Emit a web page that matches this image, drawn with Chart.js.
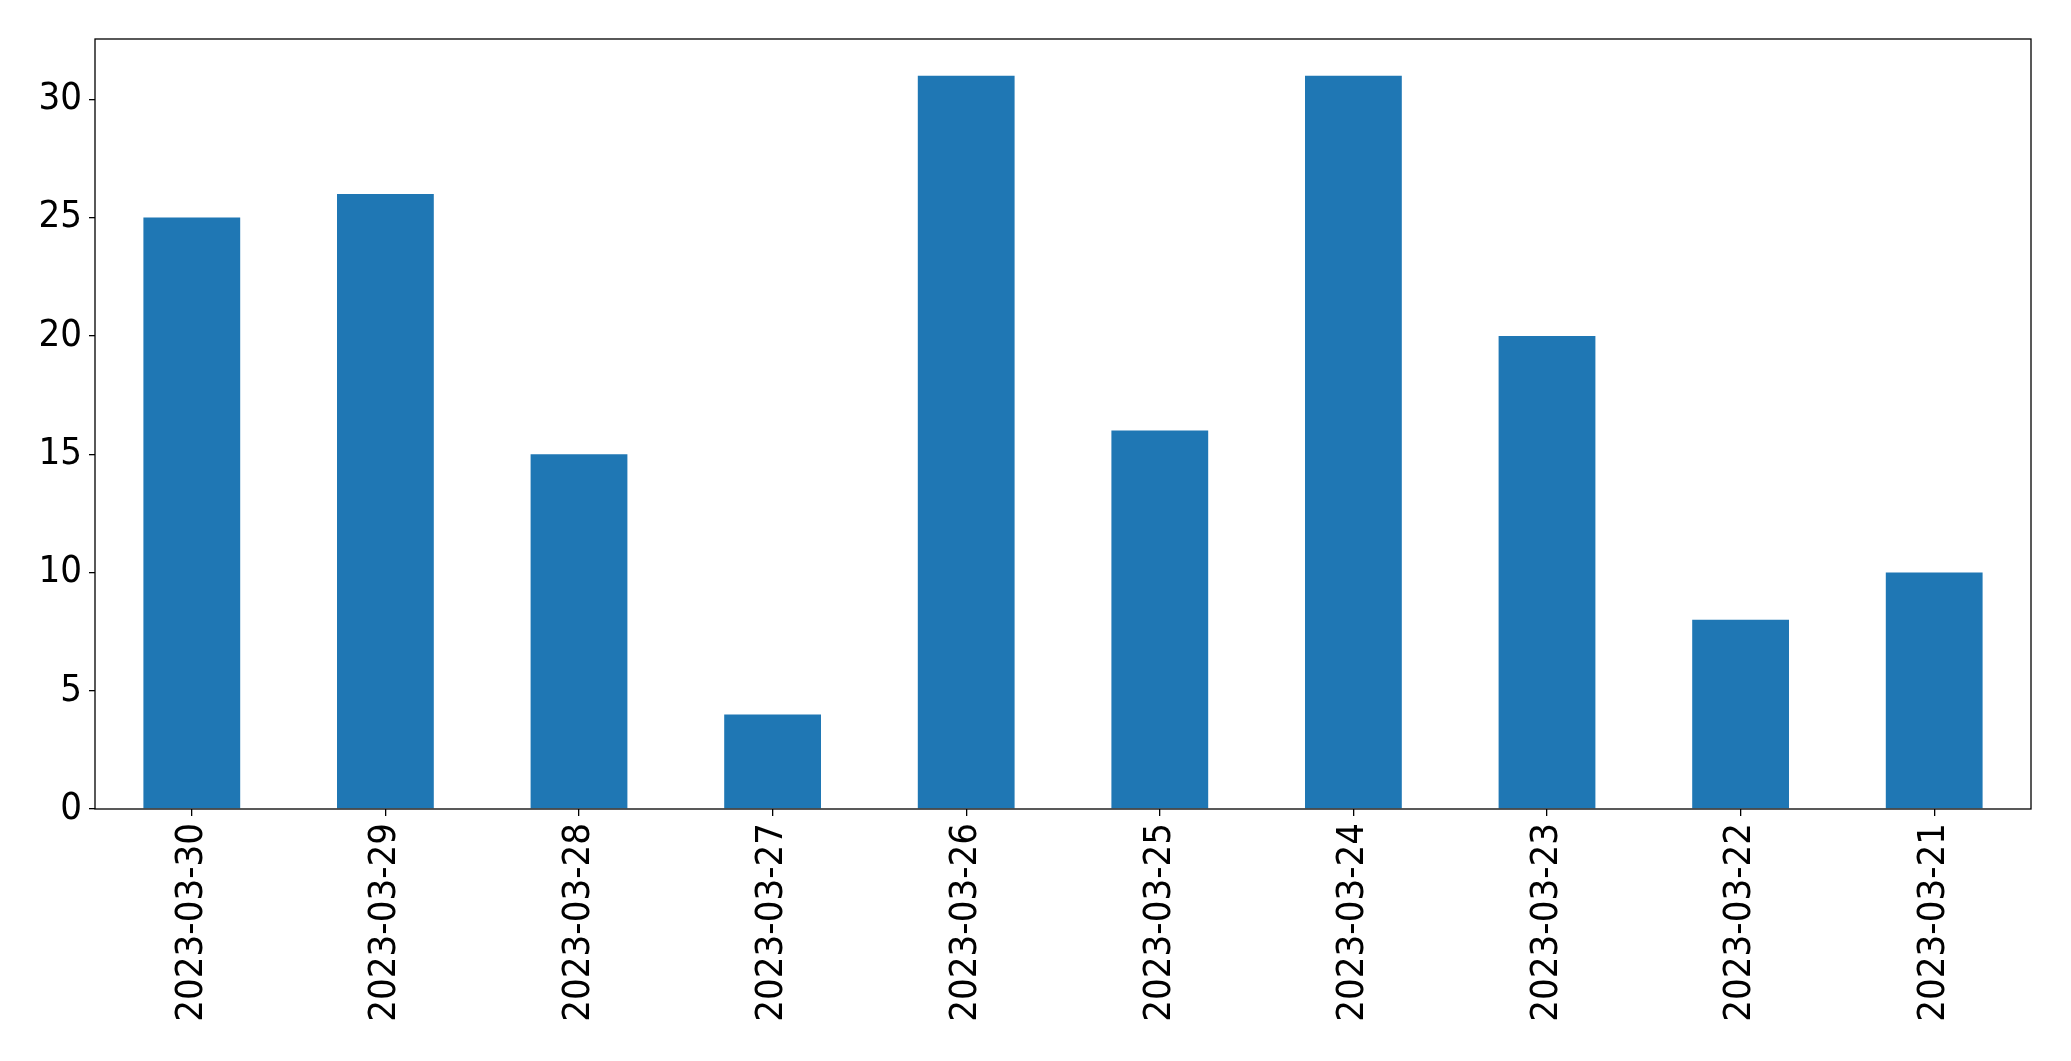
<!DOCTYPE html>
<html>
<head>
<meta charset="utf-8">
<script src="https://cdn.jsdelivr.net/npm/chart.js@4/dist/chart.umd.min.js"></script>
<style>
  html, body { margin: 0; padding: 0; background: #fff; }
  canvas { display: block; }
</style>
</head>
<body>
<canvas id="chart" width="2071" height="1061"></canvas>
<script>
// dates (x categories) and counts per date
const dates = ['2023-03-30', '2023-03-29', '2023-03-28', '2023-03-27', '2023-03-26',
               '2023-03-25', '2023-03-24', '2023-03-23', '2023-03-22', '2023-03-21'];
const counts = [25, 26, 15, 4, 31, 16, 31, 20, 8, 10];
const yTicks = [0, 5, 10, 15, 20, 25, 30];

// matplotlib-style upper margin: 5% above the tallest bar
const yMax = Math.max(...counts) * 1.05;

const tickFont = { family: "'DejaVu Sans Condensed', 'DejaVu Sans'", size: 38 };

// frame round the plot area
const frame = {
    id: 'frame',
    afterDraw(chart) {
        const a = chart.chartArea;
        const ctx = chart.ctx;
        ctx.save();
        ctx.strokeStyle = '#000';
        ctx.lineWidth = 1.3;
        ctx.strokeRect(a.left, a.top, a.right - a.left, a.bottom - a.top);
        ctx.restore();
    }
};

const ctx = document.getElementById('chart').getContext('2d');
new Chart(ctx, {
    type: 'bar',
    data: {
        labels: dates,
        datasets: [{
            data: counts,
            backgroundColor: '#1f77b4',
            borderWidth: 0,
            barPercentage: 0.5,
            categoryPercentage: 1.0
        }]
    },
    options: {
        responsive: false,
        animation: false,
        layout: { padding: { top: 39, right: 40, left: 0, bottom: 0 } },
        plugins: {
            legend: { display: false },
            tooltip: { enabled: false }
        },
        scales: {
            x: {
                offset: true,
                grid: { display: true, offset: false, drawOnChartArea: false, tickLength: 7, color: '#000', lineWidth: 1.3 },
                border: { display: false },
                ticks: {
                    color: '#000',
                    font: tickFont,
                    maxRotation: 90,
                    minRotation: 90,
                    autoSkip: false,
                    padding: 7
                },
                afterFit(axis) { axis.height = 1061 - 809; }
            },
            y: {
                min: 0,
                max: yMax,
                grid: { display: true, drawOnChartArea: false, tickLength: 6, color: '#000', lineWidth: 1.3 },
                border: { display: false },
                ticks: {
                    color: '#000',
                    font: tickFont,
                    padding: 7,
                    stepSize: 5
                },
                afterBuildTicks(axis) {
                    axis.ticks = yTicks.map(v => ({ value: v }));
                },
                afterFit(axis) { axis.width = 95; }
            }
        }
    },
    plugins: [frame]
});
</script>
</body>
</html>
